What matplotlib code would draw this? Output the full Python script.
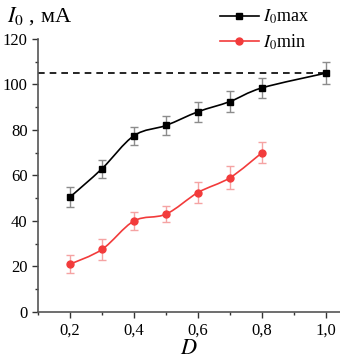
import matplotlib
matplotlib.use("Agg")
import matplotlib.pyplot as plt
from matplotlib.ticker import MultipleLocator, FuncFormatter
from matplotlib.path import Path
from matplotlib.patches import PathPatch
from matplotlib.lines import Line2D

plt.rcParams['font.family'] = ['Liberation Serif', 'DejaVu Serif']
plt.rcParams['mathtext.fontset'] = 'stix'

# data
d_max = [0.2, 0.3, 0.4, 0.5, 0.6, 0.7, 0.8, 1.0]
i_max = [50.5, 63.0, 77.5, 82.0, 88.0, 92.5, 98.5, 105.0]
err_max = [4.5, 4.0, 4.0, 4.0, 4.5, 4.5, 4.5, 5.0]

d_min = [0.2, 0.3, 0.4, 0.5, 0.6, 0.7, 0.8]
i_min = [21.0, 27.5, 40.0, 43.0, 52.5, 59.0, 70.0]
err_min = [4.0, 4.5, 4.0, 3.5, 4.5, 5.0, 4.5]

level = 105.0


def smooth_path(xs, ys):
    # catmull-rom through the points, drawn as cubic bezier segments
    verts = [(xs[0], ys[0])]
    codes = [Path.MOVETO]
    n = len(xs)
    for i in range(n - 1):
        x0, y0 = (xs[i - 1], ys[i - 1]) if i > 0 else (xs[i], ys[i])
        x1, y1 = xs[i], ys[i]
        x2, y2 = xs[i + 1], ys[i + 1]
        x3, y3 = (xs[i + 2], ys[i + 2]) if i + 2 < n else (x2, y2)
        verts += [(x1 + (x2 - x0) / 6, y1 + (y2 - y0) / 6),
                  (x2 - (x3 - x1) / 6, y2 - (y3 - y1) / 6),
                  (x2, y2)]
        codes += [Path.CURVE4] * 3
    return Path(verts, codes)


fig = plt.figure(figsize=(3.4, 3.61), dpi=100)
ax = fig.add_axes([0.112, 0.136, 0.888, 0.756])

red = '#f23b3b'
ax.errorbar(d_max, i_max, yerr=err_max, fmt='none', ecolor='#8c8c8c',
            elinewidth=1.0, capsize=3, capthick=1.0, zorder=2)
ax.errorbar(d_min, i_min, yerr=err_min, fmt='none', ecolor='#f5a3a3',
            elinewidth=1.0, capsize=3, capthick=1.0, zorder=2)
ax.add_patch(PathPatch(smooth_path(d_max, i_max), fill=False,
                       edgecolor='black', lw=1.2, zorder=3))
ax.add_patch(PathPatch(smooth_path(d_min, i_min), fill=False,
                       edgecolor=red, lw=1.2, zorder=3))
ax.plot(d_max, i_max, ls='none', color='black', marker='s', ms=5, zorder=4)
ax.plot(d_min, i_min, ls='none', color=red, marker='o', ms=5, zorder=4)
ax.plot([0.1, d_max[-1]], [level, level], color='black', lw=1.2,
        ls=(0, (4, 3)), zorder=1)

ax.set_xlim(0.1, 1.044)
ax.set_ylim(0, 120)
ax.xaxis.set_major_locator(MultipleLocator(0.2))
ax.xaxis.set_minor_locator(MultipleLocator(0.1))
ax.yaxis.set_major_locator(MultipleLocator(20))
ax.yaxis.set_minor_locator(MultipleLocator(10))
ax.xaxis.set_major_formatter(FuncFormatter(lambda v, p: f'{v:.1f}'.replace('.', ',')))
ax.yaxis.set_major_formatter(FuncFormatter(lambda v, p: f'{v:.0f}'))
ax.tick_params(axis='both', which='major', labelsize=12, length=4,
               width=1, direction='out', color='#333333',
               labelfontfamily='Liberation Serif')
ax.tick_params(axis='both', which='minor', length=2.5, width=1,
               direction='out', color='#333333')
for s in ['top', 'right']:
    ax.spines[s].set_visible(False)
for s in ['left', 'bottom']:
    ax.spines[s].set_color('#555555')
    ax.spines[s].set_linewidth(1.2)

ax.set_xlabel('$D$', fontsize=16, labelpad=1)
fig.text(0.02, 0.955, r'$I_0$ , мА', fontsize=16, va='center', ha='left')

handles = [Line2D([], [], color='black', lw=1.2, marker='s', ms=5),
           Line2D([], [], color=red, lw=1.2, marker='o', ms=5)]
labels = [r'$I_0$max', r'$I_0$min']
leg = ax.legend(handles, labels, loc='upper right', bbox_to_anchor=(0.93, 0.998),
                bbox_transform=fig.transFigure, frameon=False, fontsize=13,
                handlelength=2.2, handletextpad=0.2, labelspacing=0.35,
                borderaxespad=0)

fig.savefig('out.png', dpi=100)
